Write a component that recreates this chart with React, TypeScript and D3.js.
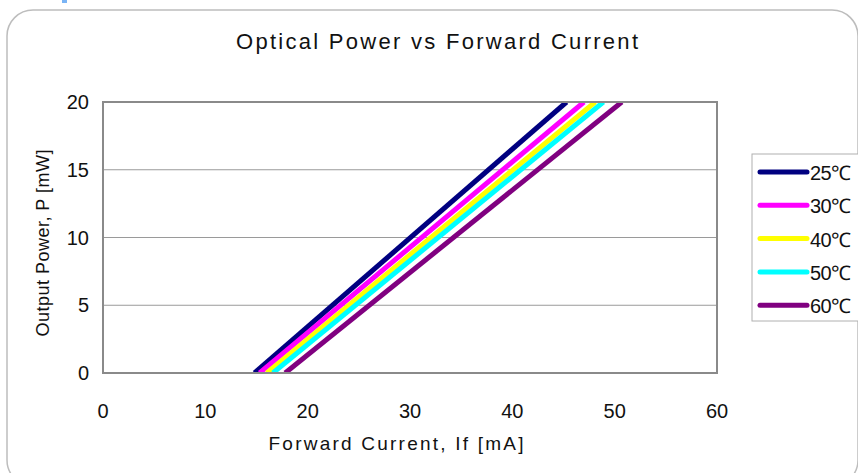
import * as d3 from 'd3';
import * as React from 'react';

const W = 858;
const H = 473;

// series: threshold current (P = 0) and current at P = 20 mW
const temps = ['25℃', '30℃', '40℃', '50℃', '60℃'];
const colors = ['#000080', '#ff00ff', '#ffff00', '#00ffff', '#800080'];
const currentAt0 = [14.8, 15.3, 16.0, 16.6, 17.8];
const currentAt20 = [45.3, 47.0, 48.1, 48.9, 50.7];
const power = [0, 20];

const xTicks = [0, 10, 20, 30, 40, 50, 60];
const yTicks = [0, 5, 10, 15, 20];

const font = '"Liberation Sans", Arial, sans-serif';

export default function App() {
  const x = d3.scaleLinear().domain([0, 60]).range([103, 717]);
  const y = d3.scaleLinear().domain([0, 20]).range([373, 102]);
  const line = d3.line<[number, number]>()
    .x(d => x(d[0]))
    .y(d => y(d[1]));

  return (
    <svg width={W} height={H} style={{ position: 'absolute', left: 0, top: 0, background: '#fff' }}>
      <rect x={62} y={0} width={5} height={3} fill="#7ab4f5" />
      <rect x={7} y={10} width={851} height={476} rx={26} fill="none" stroke="#bdbdbd" strokeWidth={1.5} />

      <text x={437} y={49} textAnchor="middle" fontFamily={font} fontSize={22} fill="#111"
        textLength={402} lengthAdjust="spacing">Optical Power vs Forward Current</text>

      <defs>
        <clipPath id="plot">
          <rect x={x(0)} y={y(20)} width={x(60) - x(0)} height={y(0) - y(20)} />
        </clipPath>
      </defs>

      {yTicks.filter(t => t > 0 && t < 20).map(t => (
        <line key={t} x1={x(0)} x2={x(60)} y1={y(t)} y2={y(t)} stroke="#9a9a9a" strokeWidth={1} />
      ))}

      <g clipPath="url(#plot)">
        {temps.map((t, i) => (
          <path key={t} d={line([[currentAt0[i], power[0]], [currentAt20[i], power[1]]]) || ''}
            stroke={colors[i]} strokeWidth={5} fill="none" />
        ))}
      </g>

      <rect x={x(0)} y={y(20)} width={x(60) - x(0)} height={y(0) - y(20)} fill="none" stroke="#8a8a8a" strokeWidth={2} />

      {yTicks.map(t => (
        <text key={t} x={89} y={y(t) + 7} textAnchor="end" fontFamily={font} fontSize={20} fill="#111">{t}</text>
      ))}
      {xTicks.map(t => (
        <text key={t} x={x(t)} y={418} textAnchor="middle" fontFamily={font} fontSize={20} fill="#111">{t}</text>
      ))}

      <text x={396} y={450} textAnchor="middle" fontFamily={font} fontSize={19} fill="#111"
        textLength={255} lengthAdjust="spacing">Forward Current, If [mA]</text>
      <text transform="translate(49,243) rotate(-90)" textAnchor="middle" fontFamily={font} fontSize={18} fill="#111"
        textLength={187} lengthAdjust="spacing">Output Power, P [mW]</text>

      <rect x={752} y={154} width={110} height={167} fill="#fff" stroke="#b0b0b0" strokeWidth={1} />
      {temps.map((t, i) => (
        <g key={t} transform={`translate(0,${172 + i * 33.3})`}>
          <line x1={760} x2={807} y1={0} y2={0} stroke={colors[i]} strokeWidth={5} strokeLinecap="round" />
          <text x={810} y={8} fontFamily={font} fontSize={20} fill="#111" letterSpacing={-0.5}>{t}</text>
        </g>
      ))}
    </svg>
  );
}
